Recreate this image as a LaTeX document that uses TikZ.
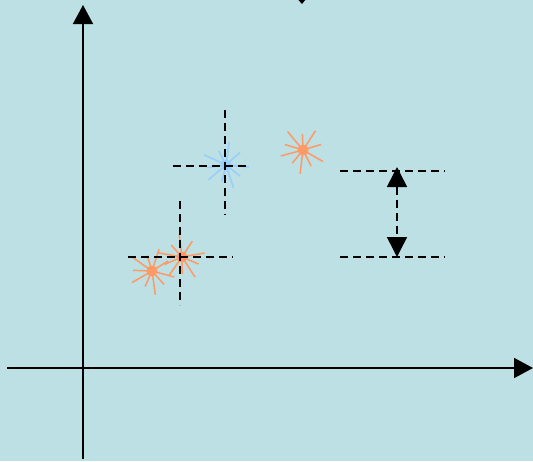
\documentclass[tikz,border=0pt]{standalone}
\usepackage{xcolor}
\usepackage{tikz}
\usetikzlibrary{arrows.meta}
\definecolor{FondoAzul}{RGB}{188,224,227}
\definecolor{NaranjaPunto}{RGB}{255,153,102}
\definecolor{AzulPunto}{RGB}{153,204,255}
\tikzset{
  eje/.style={line width=1.6pt,-{Triangle[length=19pt,width=20pt]}},
  guia/.style={line width=1.5pt,dash pattern=on 8pt off 5pt},
  cota/.style={line width=1.5pt,dash pattern=on 8pt off 5pt,{Triangle[length=20pt,width=20pt]}-{Triangle[length=20pt,width=20pt]}},
  rayo/.style={line width=1.5pt}
}
% estrella irregular de rayos
\newcommand{\estrella}[3]{%
  \foreach \a/\r in {5/23,38/18,72/24,104/17,140/23,172/19,205/24,243/16,278/23,318/19}
    \draw[rayo,#2] (#1) -- ++(\a+#3:\r);
  \fill[#2] (#1) circle (5.5pt);
}

\begin{document}
\begin{tikzpicture}[x=1pt,y=-1pt]
  \fill[FondoAzul] (0,0) rectangle (533,461);
  \useasboundingbox (0,0) rectangle (533,461);
  % ejes
  \coordinate (origen) at (83,368);
  \coordinate (xmin) at (7,368);
  \coordinate (xmax) at (533,368);
  \coordinate (ymin) at (83,459);
  \coordinate (ymax) at (83,5);
  \draw[eje] (xmin) -- (xmax);
  \draw[eje] (ymin) -- (ymax);
  % punta cortada arriba
  \fill (293,-6) -- (310,-6) -- (302,4) -- cycle;
  % puntos
  \coordinate (azul) at (226,165);
  \coordinate (nar1) at (303,150);
  \coordinate (nar2) at (182,257);
  \coordinate (nar3) at (152,271);
  \estrella{nar3}{NaranjaPunto}{10}
  \estrella{nar2}{NaranjaPunto}{-15}
  \estrella{nar1}{NaranjaPunto}{25}
  \estrella{azul}{AzulPunto}{0}
  % cruces de error
  \draw[guia] (173,166) -- (249,166);
  \draw[guia] (225,110) -- (225,215);
  \draw[guia] (128,257) -- (233,257);
  \draw[guia] (180,201) -- (180,305);
  % cota a la derecha
  \coordinate (arriba) at (397,167);
  \coordinate (abajo) at (397,257);
  \draw[guia] (340,171) -- (445,171);
  \draw[guia] (340,257) -- (445,257);
  \draw[cota] (arriba) -- (abajo);
\end{tikzpicture}
\end{document}
